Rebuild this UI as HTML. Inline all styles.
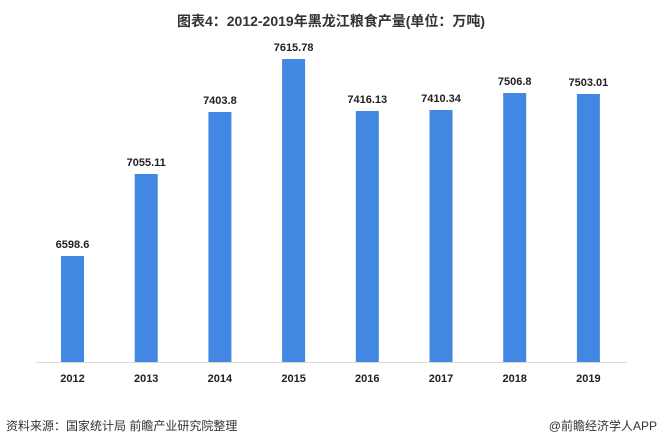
<!DOCTYPE html><html><head><meta charset="utf-8"><style>body{margin:0;background:#fff}svg{display:block}text{font-family:"Liberation Sans","Noto Sans CJK SC",sans-serif}</style></head><body>
<svg width="663" height="446" viewBox="0 0 663 446">
<text x="331" y="26" text-anchor="middle" font-size="14" font-weight="bold" fill="#333">图表4：2012-2019年黑龙江粮食产量(单位：万吨)</text>
<line x1="36" y1="362.5" x2="627" y2="362.5" stroke="#d9d9d9" stroke-width="1"/>
<g fill="#4288e2">
<rect x="61" y="256" width="23" height="106"/>
<rect x="134.7" y="174" width="23" height="188"/>
<rect x="208.4" y="112" width="23" height="250"/>
<rect x="282.1" y="59" width="23" height="303"/>
<rect x="355.8" y="111" width="23" height="251"/>
<rect x="429.5" y="110" width="23" height="252"/>
<rect x="503.2" y="93" width="23" height="269"/>
<rect x="576.9" y="94" width="23" height="268"/>
</g>
<g font-size="11" font-weight="bold" fill="#222" text-anchor="middle">
<text x="72.5" y="248">6598.6</text>
<text x="146.2" y="166">7055.11</text>
<text x="219.9" y="104">7403.8</text>
<text x="293.6" y="51">7615.78</text>
<text x="367.3" y="103">7416.13</text>
<text x="441" y="102">7410.34</text>
<text x="514.7" y="85">7506.8</text>
<text x="588.4" y="86">7503.01</text>
<text x="72.5" y="382">2012</text>
<text x="146.2" y="382">2013</text>
<text x="219.9" y="382">2014</text>
<text x="293.6" y="382">2015</text>
<text x="367.3" y="382">2016</text>
<text x="441" y="382">2017</text>
<text x="514.7" y="382">2018</text>
<text x="588.4" y="382">2019</text>
</g>
<text x="6" y="430" font-size="12" fill="#333">资料来源：国家统计局 前瞻产业研究院整理</text>
<text x="657" y="430" font-size="12" fill="#333" text-anchor="end">@前瞻经济学人APP</text>
</svg></body></html>
